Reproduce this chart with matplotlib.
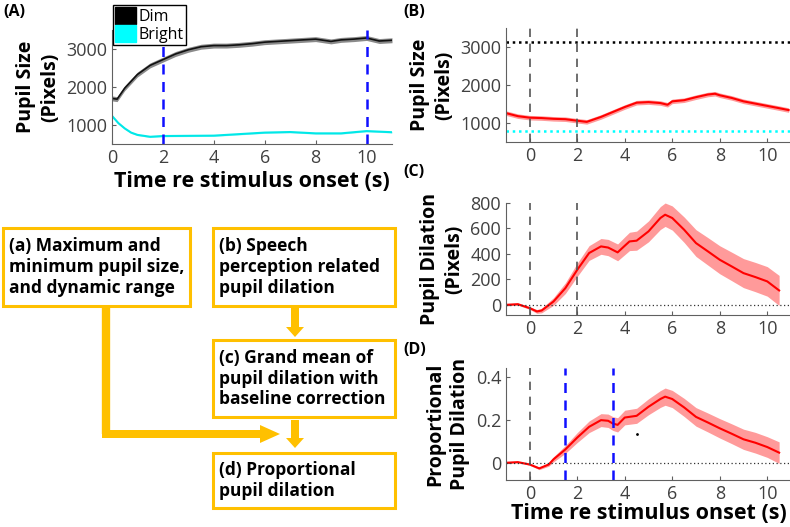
import matplotlib.pyplot as plt
import matplotlib as mpl
from matplotlib.patches import Patch, Rectangle, FancyArrow
import numpy as np

mpl.rcParams['font.family'] = ['Open Sans', 'DejaVu Sans']
mpl.rcParams['font.size'] = 11

# ---- panel A: pupil size, dim vs bright ----
t_dim = [0, 0.2, 0.5, 1, 1.5, 2, 2.5, 3, 3.5, 4, 4.5, 5, 5.5, 6, 6.5, 7, 7.5, 8, 8.6, 9, 9.5, 10, 10.5, 11]
dim = [1700, 1680, 1970, 2330, 2570, 2720, 2870, 2980, 3060, 3090, 3090, 3110, 3140, 3180, 3200, 3220, 3240, 3260, 3200, 3240, 3260, 3290, 3210, 3230]
dim_err = 65
t_bright = [0, 0.25, 0.5, 0.75, 1, 1.5, 2, 3, 4, 5, 6, 7, 8, 9, 10, 11]
bright = [1240, 1050, 910, 800, 740, 690, 710, 715, 720, 760, 800, 815, 780, 780, 840, 810]
bright_err = 20
a_lines = [2, 10]

# ---- panel B: pupil size during speech ----
t_b = [-1, -0.5, 0, 0.5, 1, 1.5, 2, 2.4, 3, 3.5, 4, 4.5, 5, 5.5, 5.8, 6, 6.5, 7, 7.5, 7.8, 8, 8.5, 9, 9.5, 10, 10.5, 10.9]
size_b = [1260, 1180, 1140, 1130, 1110, 1100, 1060, 1030, 1160, 1290, 1420, 1535, 1550, 1525, 1480, 1570, 1600, 1680, 1750, 1770, 1730, 1660, 1570, 1510, 1450, 1390, 1340]
size_b_err = 60
b_max = 3130
b_min = 790

# ---- panel C: baseline-corrected dilation ----
t_c = [-1, -0.5, 0, 0.3, 0.5, 1, 1.5, 2, 2.5, 3, 3.3, 3.7, 4, 4.2, 4.5, 5, 5.5, 5.7, 6, 6.5, 7, 7.5, 8, 8.5, 9, 9.5, 10, 10.5]
dil_c = [0, 5, -26, -52, -45, 26, 131, 275, 407, 459, 450, 412, 464, 498, 504, 577, 682, 708, 682, 590, 485, 420, 354, 302, 249, 218, 184, 113]
err_c = [8, 8, 10, 15, 18, 30, 42, 52, 58, 62, 64, 66, 70, 72, 75, 82, 90, 92, 95, 100, 105, 108, 110, 112, 114, 115, 116, 118]

# ---- panel D: proportional dilation ----
t_d = [-1, -0.5, 0, 0.4, 0.8, 1, 1.5, 2, 2.5, 3, 3.3, 3.5, 3.7, 4, 4.5, 5, 5.5, 5.7, 6, 6.5, 7, 7.5, 8, 8.5, 9, 9.5, 10, 10.5]
prop_d = [0, 0.003, -0.008, -0.026, -0.008, 0.016, 0.062, 0.117, 0.167, 0.198, 0.195, 0.182, 0.176, 0.21, 0.218, 0.26, 0.296, 0.307, 0.296, 0.257, 0.213, 0.187, 0.16, 0.135, 0.109, 0.093, 0.073, 0.047]
err_d = [0.003, 0.003, 0.004, 0.006, 0.008, 0.012, 0.018, 0.023, 0.027, 0.03, 0.031, 0.032, 0.033, 0.034, 0.035, 0.037, 0.039, 0.04, 0.04, 0.042, 0.043, 0.044, 0.045, 0.046, 0.047, 0.048, 0.048, 0.05]
d_lines = [1.5, 3.5]
dot_d = (4.5, 0.135)

flow_text = {
    'a': "(a) Maximum and\nminimum pupil size,\nand dynamic range",
    'b': "(b) Speech\nperception related\npupil dilation",
    'c': "(c) Grand mean of\npupil dilation with\nbaseline correction",
    'd': "(d) Proportional\npupil dilation",
}

GOLD = '#FFC000'
TICK = '#404040'
SPINE = '#606060'
RED = '#FF0000'
BAND = '#FF9A9A'
GREY_DASH = '#555555'
xlab = "Time re stimulus onset (s)"

W, H = 790, 527
fig = plt.figure(figsize=(W / 100, H / 100), dpi=100)


def px_axes(left, top, right, bottom):
    return fig.add_axes([left / W, 1 - bottom / H, (right - left) / W, (bottom - top) / H])


def style(ax):
    for s in ['top', 'right']:
        ax.spines[s].set_visible(False)
    for s in ['left', 'bottom']:
        ax.spines[s].set_color(SPINE)
    ax.tick_params(direction='in', length=3, colors=SPINE, labelcolor=TICK, labelsize=13)


def ylab(ax, txt):
    ax.set_ylabel(txt, fontsize=14, fontweight='bold', labelpad=4, linespacing=1.3)


# panel A
axA = px_axes(112, 30, 392, 144)
t_dim = np.array(t_dim); dim = np.array(dim)
t_bright = np.array(t_bright); bright = np.array(bright)
axA.fill_between(t_dim, dim - dim_err, dim + dim_err, color='#8a8a8a', lw=0)
axA.plot(t_dim, dim, color='#111111', lw=1.2)
axA.fill_between(t_bright, bright - bright_err, bright + bright_err, color='#9ff5f5', lw=0)
axA.plot(t_bright, bright, color='#00E8E8', lw=1.5)
for v in a_lines:
    axA.axvline(v, color='#1010FF', ls=(0, (4, 3)), lw=1.8)
axA.set_xlim(0, 11)
axA.set_ylim(500, 3500)
axA.set_xticks([0, 2, 4, 6, 8, 10])
axA.set_yticks([1000, 2000, 3000])
style(axA)
ylab(axA, "Pupil Size\n(Pixels)")
axA.set_xlabel(xlab, fontsize=15.5, fontweight='bold', labelpad=3)
leg = axA.legend(handles=[Patch(color='black', label='Dim'), Patch(color='cyan', label='Bright')],
                 loc='upper left', bbox_to_anchor=(113 / W, 1 - 5 / H), bbox_transform=fig.transFigure,
                 fontsize=11.5, handlelength=1.3, handleheight=1.3, labelspacing=0.0, handletextpad=0.2,
                 borderpad=0.12, borderaxespad=0, fancybox=False, framealpha=1, edgecolor='black')
leg.get_frame().set_linewidth(1.0)

# panel B
axB = px_axes(506, 28, 791, 142)
t_b = np.array(t_b); size_b = np.array(size_b)
axB.fill_between(t_b, size_b - size_b_err, size_b + size_b_err, color=BAND, lw=0)
axB.plot(t_b, size_b, color=RED, lw=1.5)
axB.axhline(b_max, color='black', ls=(0, (1, 1.5)), lw=1.8)
axB.axhline(b_min, color='cyan', ls=(0, (1, 1.5)), lw=1.8)
for v in [0, 2]:
    axB.axvline(v, color=GREY_DASH, ls=(0, (5, 4)), lw=1.2)
axB.set_xlim(-1, 11)
axB.set_ylim(500, 3500)
axB.set_xticks([0, 2, 4, 6, 8, 10])
axB.set_yticks([1000, 2000, 3000])
style(axB)
ylab(axB, "Pupil Size\n(Pixels)")

# panel C
axC = px_axes(506, 203, 791, 315)
t_c = np.array(t_c); dil_c = np.array(dil_c); err_c = np.array(err_c)
axC.fill_between(t_c, dil_c - err_c, dil_c + err_c, color=BAND, lw=0)
axC.plot(t_c, dil_c, color=RED, lw=1.5)
axC.axhline(0, color='#333333', ls=(0, (1, 2)), lw=0.9)
for v in [0, 2]:
    axC.axvline(v, color=GREY_DASH, ls=(0, (5, 4)), lw=1.2)
axC.set_xlim(-1, 11)
axC.set_ylim(-80, 800)
axC.set_xticks([0, 2, 4, 6, 8, 10])
axC.set_yticks([0, 200, 400, 600, 800])
style(axC)
ylab(axC, "Pupil Dilation\n(Pixels)")

# panel D
axD = px_axes(506, 368, 791, 480)
t_d = np.array(t_d); prop_d = np.array(prop_d); err_d = np.array(err_d)
axD.fill_between(t_d, prop_d - err_d, prop_d + err_d, color=BAND, lw=0)
axD.plot(t_d, prop_d, color=RED, lw=1.5)
axD.axhline(0, color='#333333', ls=(0, (1, 2)), lw=0.9)
axD.axvline(0, color=GREY_DASH, ls=(0, (5, 4)), lw=1.2)
for v in d_lines:
    axD.axvline(v, color='#1010FF', ls=(0, (4, 3)), lw=1.8)
axD.plot([dot_d[0]], [dot_d[1]], marker='.', ms=2, color='black')
axD.set_xlim(-1, 11)
axD.set_ylim(-0.08, 0.44)
axD.set_xticks([0, 2, 4, 6, 8, 10])
axD.set_yticks([0, 0.2, 0.4])
axD.set_yticklabels(['0', '0.2', '0.4'])
style(axD)
ylab(axD, "Proportional\nPupil Dilation")
axD.set_xlabel(xlab, fontsize=15.5, fontweight='bold', labelpad=0)

# panel letters
for txt, x, y in [("(A)", 3, 12), ("(B)", 403, 12), ("(C)", 403, 172), ("(D)", 403, 350)]:
    fig.text(x / W, 1 - y / H, txt, fontsize=11.5, fontweight='bold', va='center', ha='left')

# flowchart drawn in pixel coordinates
fl = fig.add_axes([0, 0, 1, 1], zorder=-1)
fl.set_xlim(0, W)
fl.set_ylim(H, 0)
fl.axis('off')

boxes = {'a': (3, 228, 190, 306), 'b': (213, 228, 395, 306),
         'c': (213, 340, 395, 417), 'd': (213, 453, 395, 508)}
for k, (x0, y0, x1, y1) in boxes.items():
    fl.add_patch(Rectangle((x0, y0), x1 - x0, y1 - y0, fill=False, edgecolor=GOLD, lw=2.2))
    fl.text(x0 + 6, (y0 + y1) / 2, flow_text[k], fontsize=12.5, fontweight='bold',
            va='center', ha='left', linespacing=1.2)

fl.add_patch(FancyArrow(295, 308, 0, 29, width=8, head_width=18, head_length=10,
                        length_includes_head=True, color=GOLD, lw=0))
fl.add_patch(FancyArrow(295, 420, 0, 28, width=8, head_width=18, head_length=10,
                        length_includes_head=True, color=GOLD, lw=0))
fl.plot([106, 106], [307, 434], color=GOLD, lw=6, solid_capstyle='butt')
fl.add_patch(FancyArrow(102, 434, 178, 0, width=8, head_width=18, head_length=20,
                        length_includes_head=True, color=GOLD, lw=0))

fig.savefig("out.png", dpi=100)
